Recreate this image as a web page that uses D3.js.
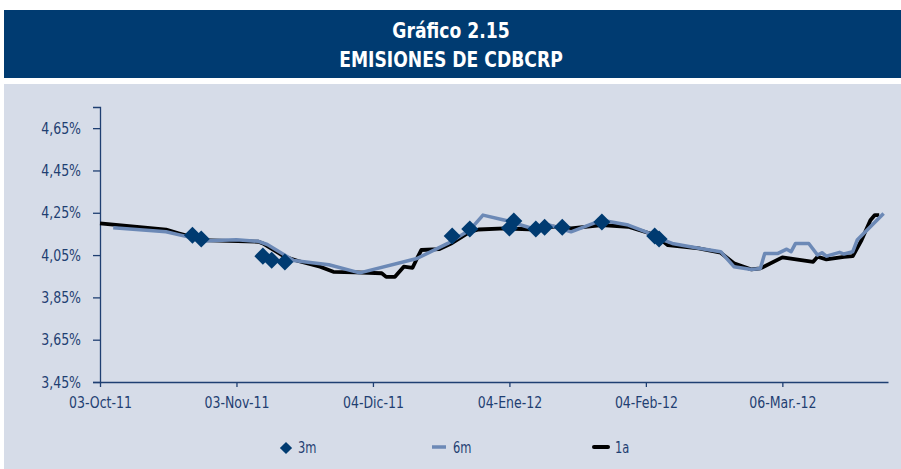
<!DOCTYPE html>
<html><head><meta charset="utf-8">
<script src="https://cdn.jsdelivr.net/npm/d3@7"></script>
<style>
html,body{margin:0;padding:0;background:#fff;}
svg{display:block;}
text{font-family:"DejaVu Sans Condensed","Liberation Sans Narrow","Liberation Sans",sans-serif;}
</style></head>
<body>
<svg id="chart" width="901" height="469"></svg>
<script>
const titleLines = ["Gráfico 2.15", "EMISIONES DE CDBCRP"];
const yTicks = [3.45, 3.65, 3.85, 4.05, 4.25, 4.45, 4.65];
const xTickDates = ["2011-10-03","2011-11-03","2011-12-04","2012-01-04","2012-02-04","2012-03-06"];
const xTickLabels = ["03-Oct-11","03-Nov-11","04-Dic-11","04-Ene-12","04-Feb-12","06-Mar.-12"];
const seriesNames = ["3m","6m","1a"];

const dates3m = ["2011-10-24","2011-10-26","2011-11-09","2011-11-11","2011-11-14","2011-12-22","2011-12-26","2012-01-04","2012-01-05","2012-01-10","2012-01-12","2012-01-16","2012-01-25","2012-02-06","2012-02-07"];
const values3m = [4.144,4.126,4.045,4.026,4.017,4.140,4.173,4.178,4.211,4.173,4.182,4.182,4.206,4.140,4.126];

const dates6m = ["2011-10-06","2011-10-18","2011-10-23","2011-10-26","2011-11-03","2011-11-08","2011-11-10","2011-11-16","2011-11-24","2011-12-01","2011-12-14","2011-12-21","2011-12-26","2011-12-29","2012-01-03","2012-01-10","2012-01-13","2012-01-18","2012-01-25","2012-01-31","2012-02-04","2012-02-08","2012-02-10","2012-02-16","2012-02-21","2012-02-24","2012-02-28","2012-03-01","2012-03-02","2012-03-05","2012-03-07","2012-03-08","2012-03-09","2012-03-12","2012-03-14","2012-03-15","2012-03-16","2012-03-19","2012-03-20","2012-03-22","2012-03-23","2012-03-29"];
const values6m = [4.179,4.160,4.136,4.116,4.123,4.115,4.100,4.024,4.004,3.966,4.034,4.105,4.168,4.239,4.215,4.171,4.192,4.160,4.215,4.192,4.160,4.121,4.105,4.082,4.066,3.995,3.982,3.987,4.058,4.058,4.078,4.066,4.105,4.105,4.050,4.061,4.045,4.063,4.055,4.066,4.121,4.247];

const dates1a = ["2011-10-03","2011-10-18","2011-10-21","2011-10-25","2011-10-26","2011-11-08","2011-11-09","2011-11-14","2011-11-17","2011-11-22","2011-11-25","2011-11-30","2011-12-06","2011-12-07","2011-12-09","2011-12-11","2011-12-13","2011-12-14","2011-12-15","2011-12-19","2011-12-22","2011-12-26","2011-12-28","2012-01-03","2012-01-10","2012-01-14","2012-01-18","2012-01-25","2012-01-31","2012-02-05","2012-02-07","2012-02-09","2012-02-16","2012-02-21","2012-02-24","2012-02-28","2012-03-01","2012-03-06","2012-03-13","2012-03-14","2012-03-16","2012-03-20","2012-03-22","2012-03-24","2012-03-26","2012-03-27","2012-03-28"];
const values1a = [4.200,4.170,4.152,4.129,4.121,4.113,4.105,4.042,4.022,3.995,3.971,3.968,3.964,3.947,3.947,3.995,3.990,4.034,4.074,4.078,4.107,4.160,4.171,4.176,4.171,4.184,4.176,4.192,4.184,4.152,4.129,4.097,4.082,4.061,4.011,3.982,3.987,4.039,4.018,4.042,4.030,4.042,4.045,4.121,4.215,4.239,4.239];

const parse = d3.timeParse("%Y-%m-%d");
const zip = (ds, vs) => ds.map((d,i)=>({date:parse(d), value:vs[i]}));
const d3m = zip(dates3m, values3m), d6m = zip(dates6m, values6m), d1a = zip(dates1a, values1a);

const NAVY = "#003b71", AXIS = "#1f3f72", BLUE6 = "#6c89b6", PANEL = "#d6dce8";
const svg = d3.select("#chart");

function narrow(sel, f) {
  sel.each(function(){
    const w = this.getComputedTextLength();
    d3.select(this).attr("textLength", w * f).attr("lengthAdjust", "spacingAndGlyphs");
  });
}

// title bar
svg.append("rect").attr("x",4).attr("y",10).attr("width",897).attr("height",68).attr("fill",NAVY);
const t1 = svg.append("text").attr("x",451).attr("y",38).attr("text-anchor","middle").attr("fill","#fff")
  .attr("font-size",21).attr("font-weight","bold").text(titleLines[0]);
const t2 = svg.append("text").attr("x",451).attr("y",67).attr("text-anchor","middle").attr("fill","#fff")
  .attr("font-size",21).attr("font-weight","bold").text(titleLines[1]);
narrow(t1, 0.91); narrow(t2, 0.91);

// panel
svg.append("rect").attr("x",4).attr("y",84).attr("width",897).attr("height",385).attr("fill",PANEL);

const x = d3.scaleTime().domain([parse("2011-10-03"), parse("2012-03-30")]).range([100, 888]);
const y = d3.scaleLinear().domain([3.45, 4.75]).range([382, 107]);

// y axis
const ya = svg.append("g").attr("transform","translate(100,0)")
  .call(d3.axisLeft(y).tickValues(yTicks).tickSize(7).tickPadding(12)
        .tickFormat(d => d3.format(".2f")(d).replace(".", ",") + "%"));
ya.select(".domain").attr("stroke",AXIS).attr("stroke-width",1.3);
ya.selectAll(".tick line").attr("stroke",AXIS).attr("stroke-width",1.3);
ya.selectAll(".tick text").attr("fill",AXIS).attr("font-size",16).attr("font-family",null);
narrow(ya.selectAll(".tick text"), 0.87);

// x axis
const xa = svg.append("g").attr("transform","translate(0,382)")
  .call(d3.axisBottom(x).tickValues(xTickDates.map(parse)).tickSize(5).tickSizeOuter(0).tickPadding(10)
        .tickFormat((d,i) => xTickLabels[i]));
xa.select(".domain").attr("stroke",AXIS).attr("stroke-width",1.3);
xa.selectAll(".tick line").attr("stroke",AXIS).attr("stroke-width",1.3);
xa.selectAll(".tick text").attr("fill",AXIS).attr("font-size",16).attr("font-family",null);
narrow(xa.selectAll(".tick text"), 0.87);

const line = d3.line().x(d=>x(d.date)).y(d=>y(d.value));
svg.append("path").datum(d1a).attr("d",line).attr("fill","none").attr("stroke","#000").attr("stroke-width",3.8).attr("stroke-linejoin","round");
svg.append("path").datum(d6m).attr("d",line).attr("fill","none").attr("stroke",BLUE6).attr("stroke-width",3.5).attr("stroke-linejoin","round");
const diamond = d3.symbol().type(d3.symbolSquare).size(145);
svg.append("g").selectAll("path").data(d3m).join("path")
  .attr("d",diamond).attr("fill",NAVY)
  .attr("transform",d=>`translate(${x(d.date)},${y(d.value)}) rotate(45)`);

// legend
const lg = svg.append("g");
lg.append("path").attr("d",d3.symbol().type(d3.symbolSquare).size(75)).attr("fill",NAVY)
  .attr("transform","translate(286,448) rotate(45)");
lg.append("text").attr("x",298).attr("y",453).attr("fill",AXIS).attr("font-size",15).text(seriesNames[0]);
lg.append("line").attr("x1",432).attr("x2",446).attr("y1",447).attr("y2",447).attr("stroke",BLUE6).attr("stroke-width",3.5);
lg.append("text").attr("x",453).attr("y",453).attr("fill",AXIS).attr("font-size",15).text(seriesNames[1]);
lg.append("line").attr("x1",594).attr("x2",608).attr("y1",447).attr("y2",447).attr("stroke","#000").attr("stroke-width",4).attr("stroke-linecap","round");
lg.append("text").attr("x",615).attr("y",453).attr("fill",AXIS).attr("font-size",15).text(seriesNames[2]);
narrow(lg.selectAll("text"), 0.85);
</script>
</body></html>
